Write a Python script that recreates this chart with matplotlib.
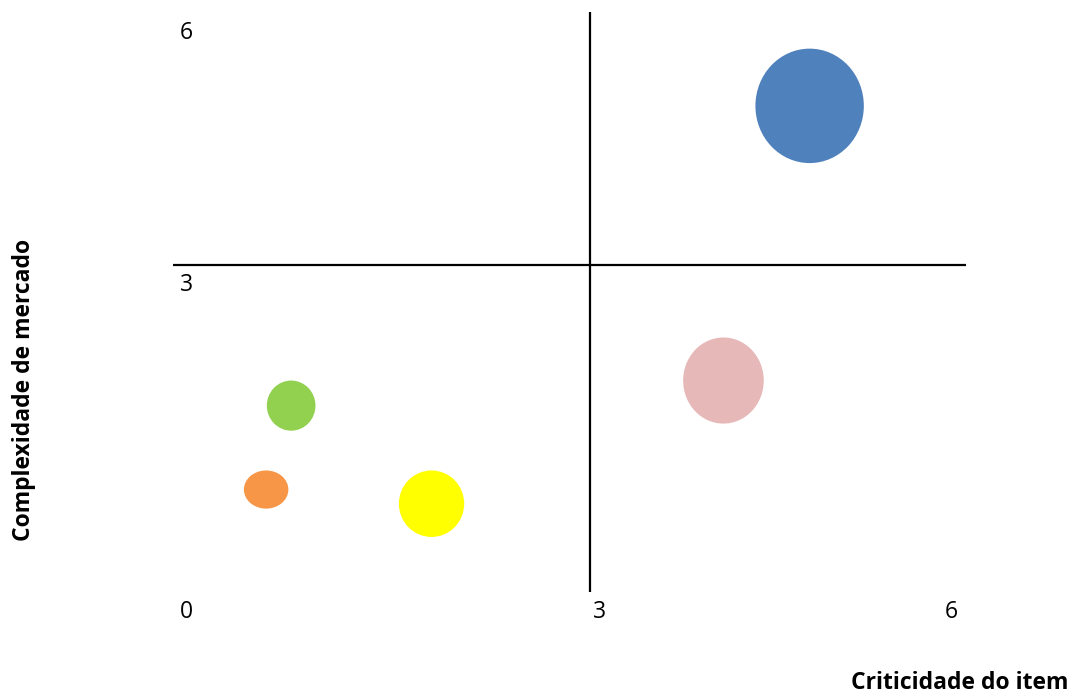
import matplotlib
matplotlib.use("Agg")
import matplotlib.pyplot as plt
from matplotlib.patches import Ellipse
from matplotlib.transforms import offset_copy

plt.rcParams['font.family'] = ['Open Sans', 'DejaVu Sans']

# data (criticidade do item, complexidade de mercado)
names = ['Azul', 'Rosa', 'Verde', 'Laranja', 'Amarelo']
x_vals = [4.58, 3.96, 0.85, 0.67, 1.86]
y_vals = [4.46, 1.94, 1.71, 0.94, 0.81]
widths = [0.78, 0.58, 0.35, 0.32, 0.47]
heights = [1.05, 0.79, 0.46, 0.35, 0.61]
colors = ['#4F81BD', '#E6B9B8', '#92D050', '#F79646', '#FFFF00']

x_ticks = [0.094, 3.07, 5.60]
x_labels = ['0', '3', '6']
y_ticks = [3.0, 5.31]
y_labels = ['3', '6']

W, H = 1077, 694
fig = plt.figure(figsize=(W / 100, H / 100), dpi=100)
ax = fig.add_axes([173 / W, (H - 592) / H, (966 - 173) / W, (592 - 12) / H])

xmax = 3 + (966 - 590) / 139.0
ymax = 3 + (265 - 12) / 109.0
ax.set_xlim(0, xmax)
ax.set_ylim(0, ymax)

for x, y, w, h, c in zip(x_vals, y_vals, widths, heights, colors):
    ax.add_patch(Ellipse((x, y), w, h, facecolor=c, edgecolor='none', zorder=3))

ax.axvline(3, color='black', lw=1.6, zorder=2)
ax.axhline(3, color='black', lw=1.6, zorder=2)

for s in ax.spines.values():
    s.set_visible(False)
ax.set_xticks([])
ax.set_yticks([])

fs = 16.5
below = offset_copy(ax.transData, fig=fig, x=0, y=-20, units='dots')
for t, l in zip(x_ticks, x_labels):
    ax.text(t, 0, l, ha='center', va='center', fontsize=fs,
            transform=below, clip_on=False)
for t, l in zip(y_ticks, y_labels):
    ax.text(0.094, t, l, ha='center', va='center', fontsize=fs,
            transform=below, clip_on=False)

fig.text(24 / W, 1 - 390 / H, 'Complexidade de mercado', rotation=90,
         ha='center', va='center', fontsize=16.5, fontweight='bold')
fig.text(1068 / W, 1 - 683 / H, 'Criticidade do item', ha='right',
         va='center', fontsize=16.5, fontweight='bold')

fig.savefig('out.png', dpi=100)
